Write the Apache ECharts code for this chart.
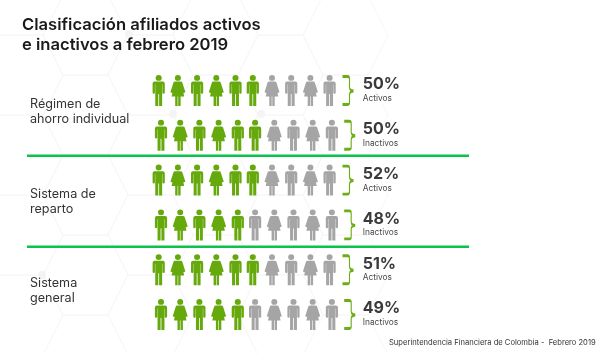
<!DOCTYPE html>
<html>
<head>
<meta charset="utf-8">
<style>
  html, body { margin: 0; padding: 0; background: #fff; }
  #chart { width: 616px; height: 353px; }
</style>
<script src="https://cdn.jsdelivr.net/npm/echarts@6/dist/echarts.min.js"></script>
</head>
<body>
<div id="chart"></div>
<script>
// datos
const titulo = 'Clasificación afiliados activos\ne inactivos a febrero 2019';
const fuente = 'Superintendencia Financiera de Colombia -  Febrero 2019';
const grupos = ['Régimen de\nahorro individual', 'Sistema de\nreparto', 'Sistema\ngeneral'];
const estados = ['Activos', 'Inactivos', 'Activos', 'Inactivos', 'Activos', 'Inactivos'];
const porcentajes = [50, 50, 52, 48, 51, 49];
const personasVerdes = [6, 6, 6, 5, 6, 5];
const generos = ['h', 'm', 'h', 'm', 'h', 'h', 'm', 'h', 'm', 'h'];

const FONT = 'Inter, "Open Sans", sans-serif';
const VERDE = '#66a90c';
const GRIS = '#a5a5a5';

const ICONO_H = 'path://M30 29A30 29 0 1 1 90 29A30 29 0 1 1 30 29ZM20 66L100 66Q120 66 120 86L120 178Q120 188 108 188Q97 188 97 178L97 96L94 96L94 310L64 310L64 190L56 190L56 310L26 310L26 96L23 96L23 178Q23 188 12 188Q0 188 0 178L0 86Q0 66 20 66Z';
const ICONO_M = 'path://M45 29A30 29 0 1 1 105 29A30 29 0 1 1 45 29ZM46 66L104 66Q116 66 120 78L150 172L130 180L138 214L102 214L102 310L78 310L78 214L72 214L72 310L48 310L48 214L12 214L20 180L0 172L30 78Q34 66 46 66Z';
const LLAVE = 'path://M0 0L5 0Q7 0 7 2L7 11Q7 13 9 14L11 14.5L9 15Q7 16 7 18L7 26Q7 28 5 28L0 28';

// personas: se corrigen los corrimientos de la lamina original
function personas(verdes) {
  const out = [];
  porcentajes.forEach((p, fila) => {
    generos.forEach((g, i) => {
      const esVerde = i < personasVerdes[fila];
      if (esVerde !== verdes) return;
      out.push({
        value: [i + 1, fila + 1],
        symbol: g === 'h' ? ICONO_H : ICONO_M,
        symbolSize: g === 'h' ? [12.2, 31] : [15, 31],
        symbolOffset: [(i >= 5 ? -1.9 : 0) + (fila % 2 ? 2.3 : 0), 0]
      });
    });
  });
  return out;
}

// fondo de hexagonos
function hexagonos() {
  const out = [];
  const centros = [];
  [85.5, 215.5, 345.5].forEach(cx => [35, 115, 195, 275, 355].forEach(cy => centros.push([cx, cy])));
  [20.5, 150.5, 280.5].forEach(cx => [-5, 75, 155, 235, 315].forEach(cy => centros.push([cx, cy])));
  centros.forEach(([cx, cy]) => {
    out.push({
      type: 'polygon',
      silent: true,
      z: -10,
      shape: { points: [[cx - 22.5, cy - 40], [cx + 22.5, cy - 40], [cx + 42.5, cy], [cx + 22.5, cy + 40], [cx - 22.5, cy + 40], [cx - 42.5, cy]] },
      style: { fill: 'none', stroke: '#f7f7f7', lineWidth: 1 }
    });
  });
  [[173, 114], [261, 114], [129, 34], [42, 275]].forEach(([x, y]) => {
    out.push({ type: 'circle', silent: true, z: -9, shape: { cx: x, cy: y, r: 4 }, style: { fill: '#f4f4f4' } });
  });
  return out;
}

const textosGrupo = grupos.map((g, i) => ({
  type: 'text',
  left: 30,
  top: [97, 187, 276][i],
  style: { text: g, font: '400 12.6px ' + FONT, fill: '#333', lineHeight: 15 }
}));

const separadores = [155.7, 246.7].map(y => ({
  type: 'rect',
  shape: { x: 27, y: y - 1.25, width: 442, height: 2.5 },
  style: { fill: '#0cc24c' }
}));

const chart = echarts.init(document.getElementById('chart'));
chart.setOption({
  animation: false,
  backgroundColor: '#fff',
  title: {
    text: titulo,
    left: 22,
    top: 15,
    padding: 0,
    textStyle: { fontFamily: FONT, fontWeight: 600, fontSize: 16.6, color: '#1a1a1a', lineHeight: 20 }
  },
  grid: { left: 139.5, top: 68.1, width: 249.6, height: 268.8 },
  xAxis: { type: 'value', min: 0, max: 13, show: false },
  yAxis: { type: 'value', min: 0.5, max: 6.5, inverse: true, show: false },
  graphic: [
    ...hexagonos(),
    ...separadores,
    ...textosGrupo,
    {
      type: 'text',
      left: 389,
      top: 339,
      style: { text: fuente, font: '400 7.6px ' + FONT, fill: '#333' }
    }
  ],
  series: [
    { name: 'Verde', type: 'scatter', itemStyle: { color: VERDE, opacity: 1 }, data: personas(true) },
    { name: 'Gris', type: 'scatter', itemStyle: { color: GRIS, opacity: 1 }, data: personas(false) },
    {
      name: 'Llave',
      type: 'scatter',
      symbol: LLAVE,
      symbolSize: [11, 28],
      itemStyle: { color: 'none', borderColor: '#6cae18', borderWidth: 1.8, opacity: 1 },
      data: porcentajes.map((p, fila) => ({
        value: [11, fila + 1],
        symbolOffset: [fila % 2 ? -1 : -2.7, 0]
      }))
    },
    {
      name: 'Porcentaje',
      type: 'scatter',
      symbolSize: 1,
      itemStyle: { color: 'rgba(0,0,0,0)', opacity: 1 },
      data: porcentajes.map((p, fila) => ({
        value: [11.6, fila + 1],
        label: {
          show: true,
          position: 'right',
          distance: 0,
          offset: [0, -1],
          formatter: '{p|' + p + '%}\n{e|' + estados[fila] + '}',
          rich: {
            p: { fontFamily: FONT, fontWeight: 700, fontSize: 16, color: '#3a3a3a', lineHeight: 18 },
            e: { fontFamily: FONT, fontSize: 8.4, color: '#4a4a4a', lineHeight: 10 }
          }
        }
      }))
    }
  ]
});
</script>
</body>
</html>
